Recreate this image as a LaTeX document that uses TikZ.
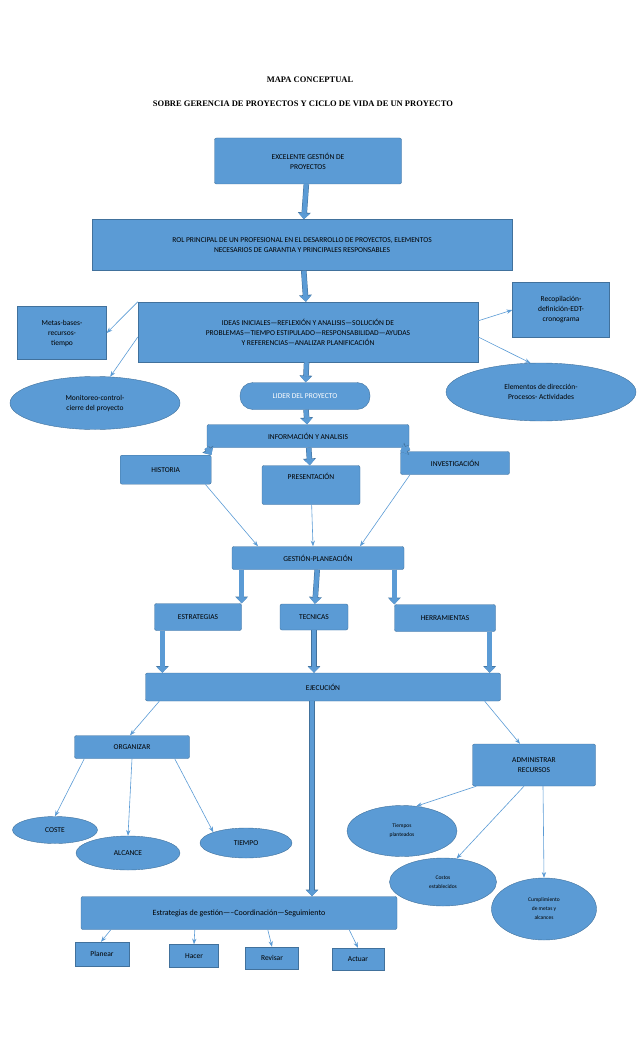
\documentclass[tikz,border=0pt]{standalone}
\usepackage{fontspec}
\setmainfont{Carlito}
\newfontfamily\titlefont{Liberation Serif}
\usetikzlibrary{arrows.meta}
\usetikzlibrary{positioning}
\usetikzlibrary{shapes.geometric}
\definecolor{boxblue}{HTML}{5B9BD5}
\definecolor{edgeblue}{HTML}{41719C}
\tikzset{>=Stealth}
\tikzset{box/.style = {rectangle, rounded corners=2pt, draw=edgeblue, fill=boxblue, align=center, inner sep=1pt, font=\fontsize{7.5}{10}\selectfont}}
\tikzset{oval/.style = {ellipse, draw=edgeblue, fill=boxblue, align=center, inner sep=0pt, font=\fontsize{7.5}{10}\selectfont}}
\tikzset{thin arrow/.style = {->, draw=boxblue, line width=0.6pt}}
\tikzset{big arrow/.style = {-{Triangle[length=6pt,width=11pt]}, draw=boxblue, line width=4.5pt,
  preaction={draw=edgeblue, line width=5.5pt, -{Triangle[length=6.8pt,width=12.5pt]}}}}

\begin{document}
\begin{tikzpicture}[x=1pt, y=-1pt]
\useasboundingbox (0,0) rectangle (638,1051);
\node [font=\titlefont\bfseries\fontsize{8.5}{10}\selectfont] (t1) at (310,80) {MAPA CONCEPTUAL};
\node [font=\titlefont\bfseries\fontsize{8.5}{10}\selectfont] (t2) at (303,104) {SOBRE GERENCIA DE PROYECTOS Y CICLO DE VIDA DE UN PROYECTO};
% cabecera
\node [box, minimum width=187pt, minimum height=46pt] (exc) at (308,161) {EXCELENTE GESTIÓN DE\\PROYECTOS};
\node [box, rounded corners=0pt, minimum width=420pt, minimum height=51pt] (rol) at (302,245) {ROL PRINCIPAL DE UN PROFESIONAL EN EL DESARROLLO DE PROYECTOS, ELEMENTOS\\NECESARIOS DE GARANTIA Y PRINCIPALES RESPONSABLES};
\node [box, rounded corners=0pt, minimum width=340pt, minimum height=60pt] (ideas) at (308,332) {IDEAS INICIALES---REFLEXIÓN Y ANALISIS---SOLUCIÓN DE\\PROBLEMAS---TIEMPO ESTIPULADO—RESPONSABILIDAD—AYUDAS\\Y REFERENCIAS—ANALIZAR PLANIFICACIÓN};
\node [box, rounded corners=0pt, minimum width=89pt, minimum height=53pt] (metas) at (62,333) {Metas-bases-\\recursos-\\tiempo};
\node [box, rounded corners=0pt, minimum width=97pt, minimum height=55pt] (recop) at (561,310) {Recopilación-\\definición-EDT-\\cronograma};
\node [oval, minimum width=170pt, minimum height=53pt] (monit) at (95,403) {Monitoreo-control-\\cierre del proyecto};
\node [oval, minimum width=190pt, minimum height=58pt] (elem) at (541,392) {Elementos de dirección-\\Procesos- Actividades};
\node [box, rounded corners=13pt, minimum width=130pt, minimum height=27pt, text=white] (lider) at (305,396) {LIDER DEL PROYECTO};
% informacion
\node [box, minimum width=202pt, minimum height=23pt] (info) at (308,436) {INFORMACIÓN Y ANALISIS};
\node [box, minimum width=91pt, minimum height=29pt, align=left, anchor=north west] (hist) at (120,455) {HISTORIA};
\node [box, minimum width=98pt, minimum height=39pt] (pres) at (311,485) {PRESENTACIÓN\\[8pt]};
\node [box, minimum width=109pt, minimum height=23pt] (inv) at (455,463) {INVESTIGACIÓN};
\node [box, minimum width=172pt, minimum height=23pt] (gest) at (318,558) {GESTIÓN-PLANEACIÓN};
\node [box, minimum width=87pt, minimum height=27pt] (estr) at (198,617) {ESTRATEGIAS};
\node [box, minimum width=68pt, minimum height=26pt] (tec) at (314,617) {TECNICAS};
\node [box, minimum width=101pt, minimum height=27pt] (herr) at (445,618) {HERRAMIENTAS};
\node [box, minimum width=355pt, minimum height=28pt] (ejec) at (323,687) {EJECUCIÓN};
% ejecucion
\node [box, minimum width=115pt, minimum height=23pt] (org) at (132,747) {ORGANIZAR};
\node [box, minimum width=123pt, minimum height=42pt] (admin) at (534,765) {ADMINISTRAR\\RECURSOS};
\node [oval, minimum width=85pt, minimum height=27pt] (coste) at (55,830) {COSTE};
\node [oval, minimum width=104pt, minimum height=34pt] (alc) at (128,853) {ALCANCE};
\node [oval, minimum width=92pt, minimum height=30pt] (tiem) at (246,843) {TIEMPO};
\node [oval, minimum width=110pt, minimum height=51pt, font=\fontsize{5.5}{9}\selectfont] (tplan) at (402,831) {Tiempos\\planteados};
\node [oval, minimum width=107pt, minimum height=48pt, font=\fontsize{5.5}{9}\selectfont] (cost) at (443,882) {Costos\\establecidos};
\node [oval, minimum width=105pt, minimum height=62pt, font=\fontsize{5.5}{9}\selectfont] (cump) at (544,909) {Cumplimiento\\de metas y\\alcances};
\node [box, minimum width=316pt, minimum height=33pt, font=\fontsize{8}{10}\selectfont] (seg) at (239,913) {Estrategias de gestión-----Coordinación---Seguimiento};
\node [box, rounded corners=0pt, minimum width=54pt, minimum height=24pt] (plan) at (102,954) {Planear};
\node [box, rounded corners=0pt, minimum width=49pt, minimum height=23pt] (hac) at (194,956) {Hacer};
\node [box, rounded corners=0pt, minimum width=53pt, minimum height=22pt] (rev) at (272,958) {Revisar};
\node [box, rounded corners=0pt, minimum width=52pt, minimum height=22pt] (act) at (358,959) {Actuar};
% flechas gruesas
\draw [big arrow] (exc) -- (rol);
\draw [big arrow] (rol) -- (ideas);
\draw [big arrow] (ideas) -- (lider);
\draw [big arrow] (lider) -- (info);
\draw [big arrow] (info.south west) -- (hist.north east);
\draw [big arrow] (info) -- (pres);
\draw [big arrow] (info.south east) -- (inv.north west);
\draw [big arrow] (gest.south west -| estr.north east) -- (estr.north east);
\draw [big arrow] (gest) -- (tec);
\draw [big arrow] (gest.south east -| herr.north west) -- (herr.north west);
\draw [big arrow] ([xshift=8pt]estr.south west) -- ([xshift=8pt]estr.south west |- ejec.north);
\draw [big arrow] (tec) -- (tec |- ejec.north);
\draw [big arrow] ([xshift=-6pt]herr.south east) -- ([xshift=-6pt]herr.south east |- ejec.north);
\draw [big arrow] ([xshift=-11pt]ejec.south) -- ([xshift=-11pt]ejec.south |- seg.north);
% flechas finas
\draw [thin arrow] (ideas.north west) -- (metas.east);
\draw [thin arrow] ([yshift=-5pt]ideas.west) -- (monit.60);
\draw [thin arrow] ([yshift=-19pt]ideas.north east) -- (recop.west);
\draw [thin arrow] ([yshift=-5pt]ideas.east) -- (elem.110);
\draw [thin arrow] ([xshift=-6pt]hist.south east) -- ([xshift=-60pt]gest.north);
\draw [thin arrow] (pres) -- ([xshift=-5pt]gest.north);
\draw [thin arrow] ([xshift=-45pt]inv.south) -- ([xshift=42pt]gest.north);
\draw [thin arrow] ([xshift=14pt]ejec.south west) -- ([xshift=-2pt]org.north);
\draw [thin arrow] ([xshift=-16pt]ejec.south east) -- ([xshift=-14pt]admin.north);
\draw [thin arrow] ([xshift=10pt]org.south west) -- (coste.north);
\draw [thin arrow] (org.south) -- (alc.north);
\draw [thin arrow] ([xshift=-15pt]org.south east) -- (tiem.north west);
\draw [thin arrow] ([xshift=4pt]admin.south west) -- (tplan.60);
\draw [thin arrow] ([xshift=-10pt]admin.south) -- (cost.60);
\draw [thin arrow] ([xshift=9pt]admin.south) -- (cump.north);
\draw [thin arrow] ([xshift=30pt]seg.south west) -- ([xshift=-1pt]plan.north);
\draw [thin arrow] ([xshift=114pt]seg.south west) -- (hac.north);
\draw [thin arrow] ([xshift=187pt]seg.south west) -- (rev.north);
\draw [thin arrow] ([xshift=-48pt]seg.south east) -- (act.north);
\end{tikzpicture}
\end{document}
